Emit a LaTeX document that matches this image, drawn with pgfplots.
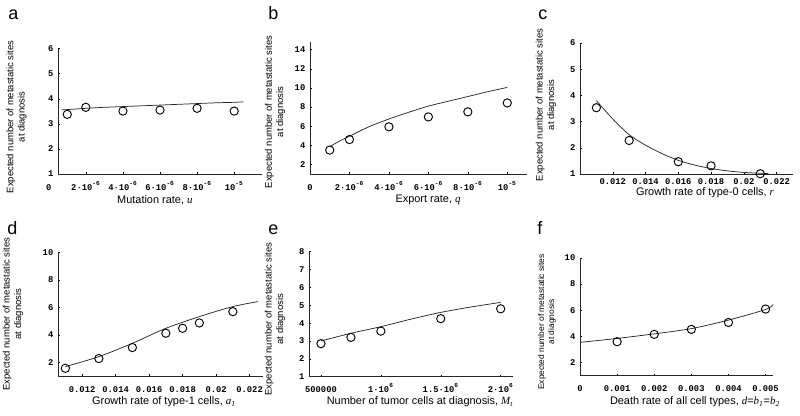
\documentclass[border=0pt]{standalone}
\usepackage{fontspec}
\setmainfont{Liberation Sans}
\newfontfamily\tickfont{Liberation Mono}
\newfontfamily\serif{Liberation Serif}
\usepackage{pgfplots}
\pgfplotsset{compat=1.18}
\newcommand{\var}[1]{{\serif\itshape #1}}
\newcommand{\tf}{\tickfont\bfseries\fontsize{6.6}{7.5}\selectfont}
\pgfplotsset{
  panel/.style={
    scale only axis,
    axis lines=left,
    axis line style={-, line width=0.6pt, black!85},
    tick style={black, line width=0.4pt},
    tick align=inside,
    major tick length=1.5pt,
    clip=false,
    scaled x ticks=false, scaled y ticks=false,
    /pgf/number format/assume math mode=true,
    ticklabel style={font=\tf},
    xticklabel style={anchor=base, yshift=-12pt},
    every axis y label/.style={rotate=90, anchor=center, align=center, font=\fontsize{7.1}{8.5}\selectfont},
    every axis x label/.style={anchor=center, font=\fontsize{8.2}{9}\selectfont},
  },
  fit/.style={no marks, black!85, line width=0.55pt, smooth},
  sim/.style={only marks, mark=o, mark size=3.1pt, mark options={line width=0.7pt, black}},
}
\begin{document}
\begin{tikzpicture}
\path[use as bounding box] (0,0) rectangle (600pt,-311.25pt);
% ---------------- a
\begin{axis}[panel, at={(43.5pt,-130.5pt)}, anchor=origin, width=153pt, height=94pt,
  xmin=0.5e-6, xmax=11.5e-6, ymin=1, ymax=6, ytick={1,2,3,4,5,6},
  xtick={2e-6,4e-6,6e-6,8e-6,1e-5},
  xticklabels={2·10\textsuperscript{-6},4·10\textsuperscript{-6},6·10\textsuperscript{-6},8·10\textsuperscript{-6},10\textsuperscript{-5}},
  ylabel={Expected number of metastatic sites\\at diagnosis},
  ylabel style={at={(axis description cs:-0.203,0.455)}},
  xlabel={Mutation rate, \var{u}},
  xlabel style={at={(axis description cs:0.475,-0.207)}}]
\addplot[fit] coordinates {(0.7e-6,3.56) (1e-6,3.57) (2e-6,3.62) (3e-6,3.66) (4e-6,3.69) (5e-6,3.72) (6e-6,3.75) (7e-6,3.78) (8e-6,3.81) (9e-6,3.84) (1e-5,3.86) (1.05e-5,3.88)};
\addplot[sim] coordinates {(1e-6,3.38) (2e-6,3.66) (4e-6,3.51) (6e-6,3.55) (8e-6,3.62) (1e-5,3.51)};
\node[anchor=base, font=\tf, yshift=-12pt] at (axis cs:0,1) {0};
\end{axis}
% ---------------- b
\begin{axis}[panel, at={(232.5pt,-130.5pt)}, anchor=origin, width=162.75pt, height=99pt,
  xmin=0, xmax=11e-6, ymin=1, ymax=14.8, ytick={2,4,6,8,10,12,14},
  xtick={0,2e-6,4e-6,6e-6,8e-6,1e-5},
  xticklabels={0,2·10\textsuperscript{-6},4·10\textsuperscript{-6},6·10\textsuperscript{-6},8·10\textsuperscript{-6},10\textsuperscript{-5}},
  ylabel={Expected number of metastatic sites\\at diagnosis},
  ylabel style={at={(axis description cs:-0.161,0.47)}},
  xlabel={Export rate, \var{q}},
  xlabel style={at={(axis description cs:0.544,-0.197)}}]
\addplot[fit] coordinates {(1e-6,3.85) (1.5e-6,4.45) (2e-6,4.95) (3e-6,5.95) (4e-6,6.75) (5e-6,7.45) (6e-6,8.1) (7e-6,8.6) (8e-6,9.1) (9e-6,9.6) (1e-5,10.05)};
\addplot[sim] coordinates {(1e-6,3.5) (2e-6,4.6) (4e-6,5.93) (6e-6,6.97) (8e-6,7.5) (1e-5,8.43)};
\end{axis}
% ---------------- c
\begin{axis}[panel, at={(435pt,-130.5pt)}, anchor=origin, width=159.75pt, height=98.25pt,
  xmin=0.01, xmax=0.023, ymin=1, ymax=6, ytick={1,2,3,4,5,6},
  xtick={0.012,0.014,0.016,0.018,0.02,0.022},
  xticklabels={0.012,0.014,0.016,0.018,0.02,0.022},
  xticklabel style={yshift=4.5pt},
  ylabel={Expected number of metastatic sites\\at diagnosis},
  ylabel style={at={(axis description cs:-0.16,0.527)}},
  xlabel={Growth rate of type-0 cells, \var{r}},
  xlabel style={at={(axis description cs:0.587,-0.145)}}]
\addplot[fit] coordinates {(0.011,3.8) (0.012,3.1) (0.013,2.5) (0.014,2.1) (0.015,1.78) (0.016,1.52) (0.017,1.34) (0.018,1.21) (0.019,1.12) (0.02,1.06) (0.021,1.03) (0.0215,1.02)};
\addplot[sim] coordinates {(0.011,3.53) (0.013,2.28) (0.016,1.47) (0.018,1.31) (0.021,1.01)};
\end{axis}
% ---------------- d
\begin{axis}[panel, at={(43.5pt,-282pt)}, anchor=origin, width=153.75pt, height=92.8pt,
  xmin=0.01056, xmax=0.0228, ymin=1, ymax=10, ytick={2,4,6,8,10},
  xtick={0.012,0.014,0.016,0.018,0.02,0.022},
  xticklabels={0.012,0.014,0.016,0.018,0.02,0.022},
  ylabel={Expected number of metastatic sites\\at diagnosis},
  ylabel style={at={(axis description cs:-0.22,0.5)}},
  xlabel={Growth rate of type-1 cells, \var{a}\textsubscript{\var{1}}},
  xlabel style={at={(axis description cs:0.517,-0.21)}}]
\addplot[fit] coordinates {(0.011,1.68) (0.013,2.41) (0.015,3.38) (0.017,4.47) (0.019,5.32) (0.021,6.05) (0.0225,6.41)};
\addplot[sim] coordinates {(0.011,1.56) (0.013,2.27) (0.015,3.07) (0.017,4.11) (0.018,4.47) (0.019,4.86) (0.021,5.68)};
\end{axis}
% ---------------- e
\begin{axis}[panel, at={(231.75pt,-282.5pt)}, anchor=origin, width=153pt, height=93.75pt,
  xmin=4e5, xmax=2.103e6, ymin=1, ymax=8, ytick={1,2,3,4,5,6,7,8},
  xtick={5e5,1e6,1.5e6,2e6},
  xticklabels={500000,1·10\textsuperscript{6},1.5·10\textsuperscript{6},2·10\textsuperscript{6}},
  xticklabel style={yshift=0.5pt},
  ylabel={Expected number of metastatic sites\\at diagnosis},
  ylabel style={at={(axis description cs:-0.167,0.46)}},
  xlabel={Number of tumor cells at diagnosis, \var{M}\textsubscript{\var{t}}},
  xlabel style={at={(axis description cs:0.544,-0.202)}}]
\addplot[fit] coordinates {(5e5,3.0) (7.5e5,3.43) (1e6,3.8) (1.25e6,4.22) (1.5e6,4.6) (1.75e6,4.9) (2e6,5.16)};
\addplot[sim] coordinates {(5e5,2.85) (7.5e5,3.2) (1e6,3.55) (1.5e6,4.25) (2e6,4.8)};
\end{axis}
% ---------------- f
\begin{axis}[panel, at={(435pt,-281.85pt)}, anchor=origin, width=144.75pt, height=88.5pt,
  xmin=0, xmax=0.0052, ymin=1, ymax=10, ytick={2,4,6,8,10},
  xtick={0,0.001,0.002,0.003,0.004,0.005},
  xticklabels={0,0.001,0.002,0.003,0.004,0.005},
  every axis y label/.append style={font=\fontsize{6.3}{7.6}\selectfont},
  ylabel={Expected number of metastatic sites\\at diagnosis},
  ylabel style={at={(axis description cs:-0.171,0.456)}},
  xlabel={Death rate of all cell types, \var{d}=\var{b}\textsubscript{\var{1}}=\var{b}\textsubscript{\var{2}}},
  xlabel style={at={(axis description cs:0.596,-0.222)}}]
\addplot[fit] coordinates {(0,3.55) (0.001,3.85) (0.002,4.2) (0.003,4.6) (0.004,5.25) (0.005,6.06) (0.0052,6.44)};
\addplot[sim] coordinates {(0.001,3.6) (0.002,4.16) (0.003,4.54) (0.004,5.07) (0.005,6.09)};
\end{axis}
% panel letters
\begin{scope}[every node/.style={anchor=base west, inner sep=0pt, font=\fontsize{13.5}{15}\selectfont}]
\node at (6pt,-14.25pt) {a};
\node at (201pt,-14.25pt) {b};
\node at (403.5pt,-14.25pt) {c};
\node at (5.25pt,-175.5pt) {d};
\node at (201pt,-175.5pt) {e};
\node at (402.75pt,-175.5pt) {f};
\end{scope}
\end{tikzpicture}
\end{document}
